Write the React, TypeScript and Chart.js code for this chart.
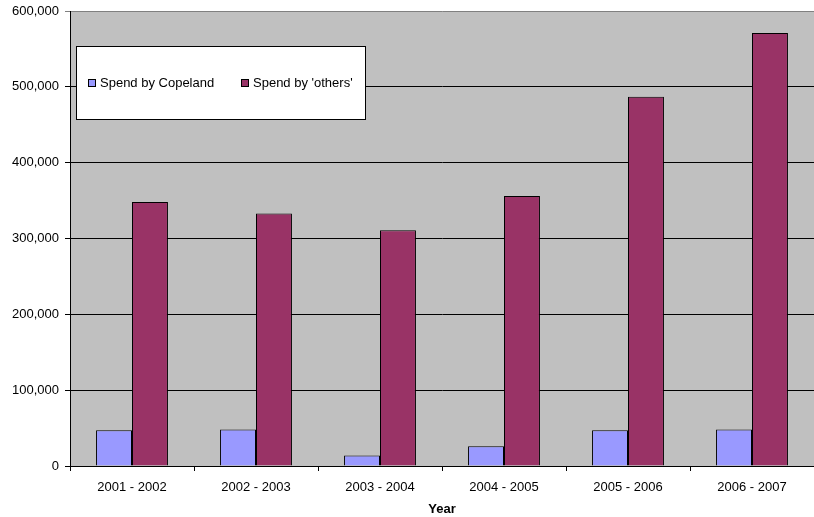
import React, { useEffect, useRef } from "react";
import { Chart, registerables } from "chart.js";

Chart.register(...registerables);

const years = ["2001 - 2002", "2002 - 2003", "2003 - 2004", "2004 - 2005", "2005 - 2006", "2006 - 2007"];
const copelandSpend = [47000, 48000, 14000, 26000, 47000, 48000];
const othersSpend = [348000, 333000, 311000, 356000, 487000, 571000];
const seriesLabels = ["Spend by Copeland", "Spend by 'others'"];
const seriesColors = ["#9999FF", "#993366"];

const FONT = "Arial, 'Liberation Sans', sans-serif";

// grey plot background
const plotBackground = {
  id: "plotBackground",
  beforeDraw(chart: any) {
    const { ctx, chartArea } = chart;
    ctx.save();
    ctx.fillStyle = "#C0C0C0";
    ctx.fillRect(chartArea.left, chartArea.top, chartArea.right - chartArea.left, chartArea.bottom - chartArea.top);
    ctx.restore();
  },
};

// boxed legend drawn inside the plot
const boxedLegend = {
  id: "boxedLegend",
  afterDraw(chart: any) {
    const { ctx } = chart;
    ctx.save();
    ctx.fillStyle = "#FFFFFF";
    ctx.fillRect(76, 46, 290, 73);
    ctx.strokeStyle = "#000000";
    ctx.lineWidth = 1;
    ctx.strokeRect(76.5, 46.5, 289, 73);
    ctx.font = `13px ${FONT}`;
    ctx.textBaseline = "middle";
    const items = [
      { x: 88, label: seriesLabels[0], color: seriesColors[0] },
      { x: 241, label: seriesLabels[1], color: seriesColors[1] },
    ];
    items.forEach((it) => {
      ctx.fillStyle = it.color;
      ctx.fillRect(it.x, 79, 8, 8);
      ctx.strokeStyle = "#000";
      ctx.strokeRect(it.x + 0.5, 79.5, 7, 7);
      ctx.fillStyle = "#000";
      ctx.fillText(it.label, it.x + 12, 83.5);
    });
    ctx.restore();
  },
};

export default function App() {
  const canvasRef = useRef<HTMLCanvasElement | null>(null);

  useEffect(() => {
    if (!canvasRef.current) return;
    const chart = new Chart(canvasRef.current, {
      type: "bar",
      data: {
        labels: years,
        datasets: [
          {
            label: seriesLabels[0],
            data: copelandSpend,
            backgroundColor: seriesColors[0],
            borderColor: "#000000",
            borderWidth: 1,
          },
          {
            label: seriesLabels[1],
            data: othersSpend,
            backgroundColor: seriesColors[1],
            borderColor: "#000000",
            borderWidth: 1,
          },
        ],
      },
      options: {
        animation: false,
        responsive: false,
        devicePixelRatio: 1,
        layout: { padding: { top: 11, right: 0, left: 0, bottom: 0 } },
        datasets: { bar: { categoryPercentage: 0.58, barPercentage: 1 } },
        plugins: {
          legend: { display: false },
          tooltip: { enabled: false },
        },
        scales: {
          x: {
            grid: {
              display: true,
              drawOnChartArea: false,
              drawTicks: true,
              tickLength: 5,
              color: "#000000",
              offset: true,
            },
            border: { display: true, color: "#000000", width: 1 },
            ticks: {
              color: "#000000",
              font: { family: FONT, size: 13 },
              padding: 9,
              maxRotation: 0,
            },
            title: {
              display: true,
              text: "Year",
              color: "#000000",
              font: { family: FONT, size: 13, weight: "bold" },
              padding: { top: 0, bottom: 0 },
            },
            afterFit(scale: any) {
              scale.height = 51;
              scale.paddingLeft = 0;
              scale.paddingRight = 0;
            },
          },
          y: {
            min: 0,
            max: 600000,
            grid: {
              color: (c: any) => (c.tick && c.tick.value === 600000 ? "#808080" : "#000000"),
              drawTicks: true,
              tickLength: 5,
              lineWidth: 1,
            },
            border: { display: true, color: "#000000", width: 1 },
            ticks: {
              stepSize: 100000,
              color: "#000000",
              padding: 6,
              font: { family: FONT, size: 13 },
              callback: (v: any) => Number(v).toLocaleString("en-US"),
            },
            afterFit(scale: any) {
              scale.width = 70;
              scale.paddingTop = 0;
              scale.paddingBottom = 0;
            },
          },
        },
      },
      plugins: [plotBackground, boxedLegend],
    });
    return () => chart.destroy();
  }, []);

  return (
    <div style={{ position: "fixed", left: 0, top: 0, width: 814, height: 517, background: "#FFFFFF" }}>
      <canvas ref={canvasRef} width={814} height={517} style={{ display: "block" }} />
    </div>
  );
}
